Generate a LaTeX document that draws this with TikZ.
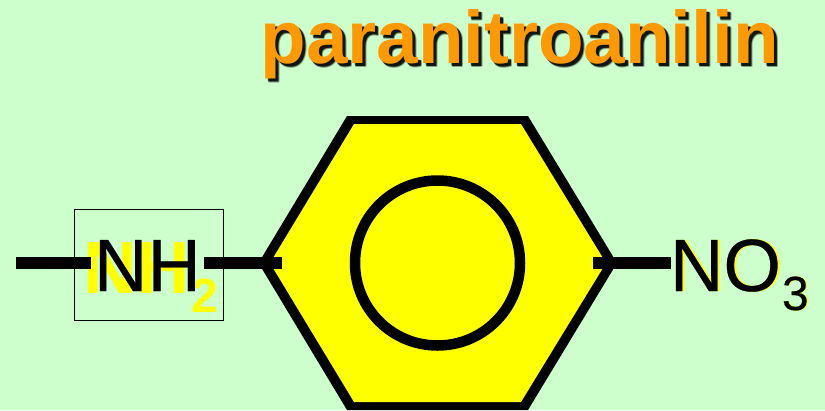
\documentclass[tikz,border=0pt]{standalone}
\usepackage{fontspec}
\setmainfont{Liberation Sans}
\newfontfamily\heavyreg[FakeBold=0.4]{Liberation Sans}
\definecolor{bgmint}{HTML}{CCFFCC}
\definecolor{ringyellow}{HTML}{FFFF00}
\definecolor{titleorange}{HTML}{FF9900}
\tikzset{
  x=1pt,y=-1pt,
  bond/.style={line width=12pt,black,line cap=butt},
  txt/.style={inner sep=0pt,outer sep=0pt,anchor=base west},
  big/.style={txt,font=\fontsize{74}{74}\selectfont\heavyreg},
  bigb/.style={txt,font=\fontsize{74}{74}\selectfont\bfseries},
  small/.style={txt,font=\fontsize{48}{48}\selectfont\heavyreg},
  smallb/.style={txt,font=\fontsize{48}{48}\selectfont\bfseries},
  ttl/.style={txt,font=\fontsize{74.6}{75}\selectfont\bfseries},
}
\begin{document}
\begin{tikzpicture}
\useasboundingbox[fill=bgmint] (0,0) rectangle (825,410);
% title
\foreach \dx/\dy/\op in {2/2/.2,4/4/.2,3/4/.2,4/3/.2,3/3/.8}
  \node[ttl,black,opacity=\op] at (260.5+\dx,63+\dy) {paranitroanilin};
\node[ttl,titleorange] (title) at (260.5,63) {paranitroanilin};
% ring: the outline is thicker on the slanted sides than on the flat ones
\fill[black] (347,116) -- (528,116) -- (617,263) -- (528,410) -- (347,410) -- (258.5,263) -- cycle;
\fill[ringyellow] (354,124) -- (521,124) -- (606,263) -- (521,402) -- (354,402) -- (270,263) -- cycle;
\node[circle,draw=black,line width=10.5pt,minimum size=165pt,inner sep=0pt,outer sep=0pt] (ring) at (437.5,263) {};
% box
\node[draw=black,line width=1pt,minimum width=149pt,minimum height=111pt,inner sep=0pt] (box) at (148.5,264.5) {};
% left label
\node[bigb,ringyellow] (nh2y) at (83,293) {NH};
\node[smallb,ringyellow] (two) at (191,312) {2};
\node[big,black] (nh2) at (94,291) {NH};
% right label
\node[big,ringyellow] (no2y) at (672,291) {NO};
\node[small,ringyellow] (threey) at (783,310) {3};
\node[big,black] (no2) at (670,291) {NO};
\node[small,black] (three) at (782,310) {3};
% bonds
\coordinate (free) at (16,263);
\coordinate (inL) at (282,263);
\coordinate (inR) at (593,263);
\draw[bond] (free) -- (91,263);
\draw[bond] (204,263) -- (inL);
\draw[bond] (inR) -- (671,263);
\end{tikzpicture}
\end{document}
